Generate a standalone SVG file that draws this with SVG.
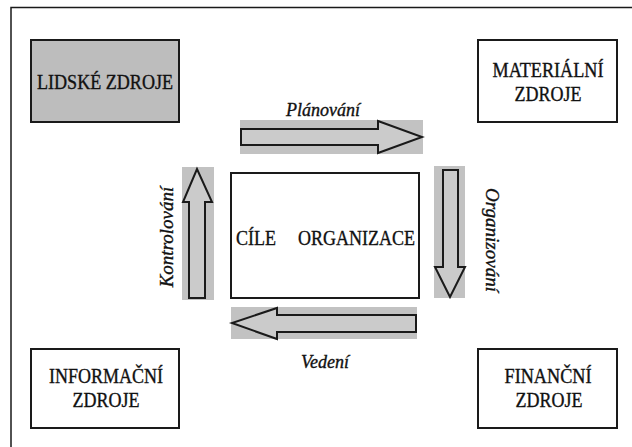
<svg xmlns="http://www.w3.org/2000/svg" width="632" height="447" viewBox="0 0 632 447">
<style>
.box{fill:#fff;stroke:#1a1a1a;stroke-width:2}
.gray{fill:#c2c2c2}
.arr{fill:#cbcbcb;stroke:#1a1a1a;stroke-width:2;stroke-linejoin:miter}
text{fill:#111;stroke:#111;stroke-width:0.35}
.t{font-size:20px;text-anchor:middle}
.it{font-size:18px;font-style:italic;text-anchor:middle}
</style>
<rect width="632" height="447" fill="#fff"/>
<g id="frame" fill="none" stroke="#1a1a1a" stroke-width="1.5">
<path d="M11 447V7.5H632"/>
</g>
<g font-family="Liberation Serif, Times New Roman, Tinos, Noto Serif, DejaVu Serif, FreeSerif, serif">
<g id="lidske">
<rect x="31" y="40" width="148" height="82" class="box" style="fill:#bdbdbd"/>
<text class="t" x="105" y="89" textLength="136" lengthAdjust="spacingAndGlyphs">LIDSKÉ ZDROJE</text>
</g>
<g id="materialni">
<rect x="478" y="40" width="139" height="82" class="box"/>
<text class="t" x="548" y="77" textLength="111" lengthAdjust="spacingAndGlyphs">MATERIÁLNÍ</text>
<text class="t" x="548" y="101" textLength="67" lengthAdjust="spacingAndGlyphs">ZDROJE</text>
</g>
<g id="informacni">
<rect x="31" y="349" width="148" height="79" class="box"/>
<text class="t" x="106" y="383" textLength="114" lengthAdjust="spacingAndGlyphs">INFORMAČNÍ</text>
<text class="t" x="106" y="407" textLength="67" lengthAdjust="spacingAndGlyphs">ZDROJE</text>
</g>
<g id="financni">
<rect x="478" y="349" width="139" height="79" class="box"/>
<text class="t" x="548" y="383" textLength="87" lengthAdjust="spacingAndGlyphs">FINANČNÍ</text>
<text class="t" x="549" y="407" textLength="67" lengthAdjust="spacingAndGlyphs">ZDROJE</text>
</g>
<g id="cile">
<rect x="231" y="173" width="188" height="125" class="box"/>
<text font-size="21" x="236" y="245" textLength="40" lengthAdjust="spacingAndGlyphs">CÍLE</text>
<text font-size="21" x="298" y="245" textLength="117" lengthAdjust="spacingAndGlyphs">ORGANIZACE</text>
</g>
<g id="connectors">
<g id="planovani">
<rect x="240" y="120" width="183" height="34" class="gray"/>
<path class="arr" d="M241 129H378V121L422 137L378 153V145H241Z"/>
<text class="it" x="323" y="116">Plánování</text>
</g>
<g id="organizovani">
<rect x="434" y="166" width="31" height="132" class="gray"/>
<path class="arr" d="M443 170H458V267H465L450 297L435 267H443Z"/>
<text class="it" style="font-size:19px" transform="translate(486 240) rotate(90)">Organizování</text>
</g>
<g id="vedeni">
<rect x="231" y="307" width="186" height="32" class="gray"/>
<path class="arr" d="M416 315H277V308L232 323L277 339V332H416Z"/>
<text class="it" x="325" y="368">Vedení</text>
</g>
<g id="kontrolovani">
<rect x="182" y="167" width="32" height="133" class="gray"/>
<path class="arr" d="M189 298V202H183L197 169L212 202H205V298Z"/>
<text class="it" style="font-size:19px" transform="translate(173 237) rotate(-90)">Kontrolování</text>
</g>
</g>
</g>
</svg>
